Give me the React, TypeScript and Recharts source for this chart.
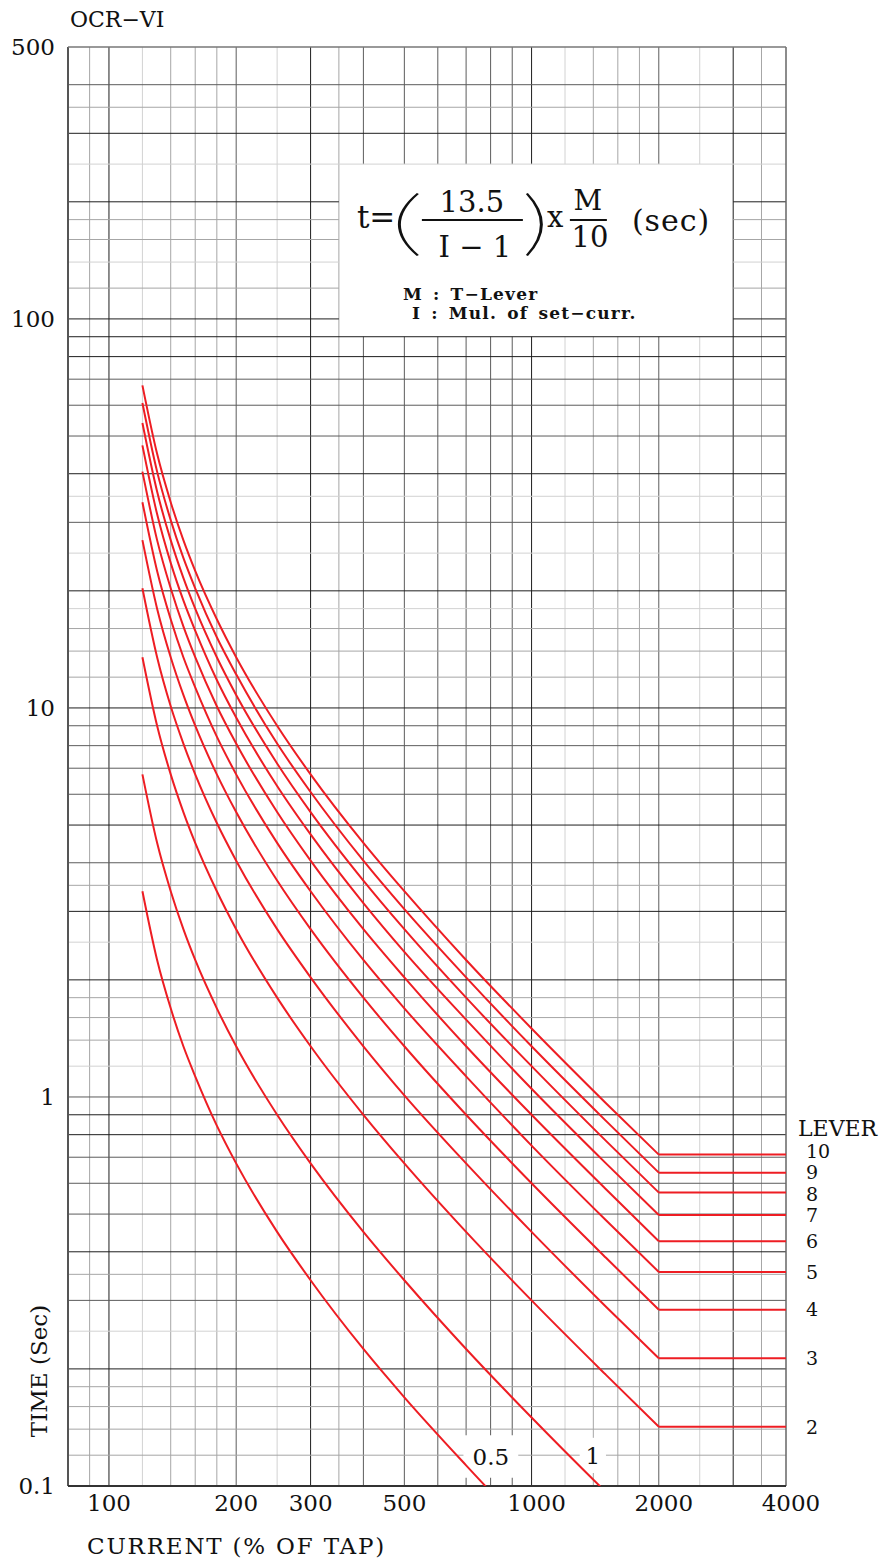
import React from "react";
import { LineChart, Line, XAxis, YAxis, ReferenceLine, ReferenceArea } from "recharts";

const FONT = "'DejaVu Serif', 'Liberation Serif', serif";
const RED = "#ee1d23";
const INK = "#111";

// current in % of tap, where the curves are read
const currents = [120, 130, 140, 150, 160, 180, 200, 250, 300, 400, 500, 700, 1000, 1500, 2000];
const flatCurrents = [2000, 4000];

// operating time (sec) per time lever
const lever10 = [67.5, 45, 33.8, 27, 22.5, 16.9, 13.5, 9, 6.75, 4.5, 3.38, 2.25, 1.5, 0.964, 0.711];
const lever9 = [60.8, 40.5, 30.4, 24.3, 20.3, 15.2, 12.2, 8.1, 6.08, 4.05, 3.04, 2.03, 1.35, 0.868, 0.639];
const lever8 = [54, 36, 27, 21.6, 18, 13.5, 10.8, 7.2, 5.4, 3.6, 2.7, 1.8, 1.2, 0.771, 0.568];
const lever7 = [47.3, 31.5, 23.6, 18.9, 15.8, 11.8, 9.45, 6.3, 4.73, 3.15, 2.36, 1.58, 1.05, 0.675, 0.497];
const lever6 = [40.5, 27, 20.3, 16.2, 13.5, 10.1, 8.1, 5.4, 4.05, 2.7, 2.03, 1.35, 0.9, 0.579, 0.426];
const lever5 = [33.8, 22.5, 16.9, 13.5, 11.3, 8.44, 6.75, 4.5, 3.38, 2.25, 1.69, 1.13, 0.75, 0.482, 0.355];
const lever4 = [27, 18, 13.5, 10.8, 9, 6.75, 5.4, 3.6, 2.7, 1.8, 1.35, 0.9, 0.6, 0.386, 0.284];
const lever3 = [20.3, 13.5, 10.1, 8.1, 6.75, 5.06, 4.05, 2.7, 2.03, 1.35, 1.01, 0.675, 0.45, 0.289, 0.213];
const lever2 = [13.5, 9, 6.75, 5.4, 4.5, 3.38, 2.7, 1.8, 1.35, 0.9, 0.675, 0.45, 0.3, 0.193, 0.142];
const lever1 = [6.75, 4.5, 3.38, 2.7, 2.25, 1.69, 1.35, 0.9, 0.675, 0.45, 0.338, 0.225, 0.15, 0.0964, 0.0711];
const lever05 = [3.38, 2.25, 1.69, 1.35, 1.13, 0.844, 0.675, 0.45, 0.338, 0.225, 0.169, 0.113, 0.075, 0.0482, 0.0355];

const leverNames = ["10", "9", "8", "7", "6", "5", "4", "3", "2", "1", "0.5"];
const leverTimes = [lever10, lever9, lever8, lever7, lever6, lever5, lever4, lever3, lever2, lever1, lever05];
const flatLevers = ["10", "9", "8", "7", "6", "5", "4", "3", "2"];
// small nudges so the tightly packed lever numbers don't collide
const labelNudge: Record<string, number> = { "10": -3, "8": 2 };

const xTicks = [100, 200, 300, 500, 1000, 2000, 4000];
const yTicks = [0.1, 1, 10, 100, 500];
const X_DOMAIN: [number, number] = [80, 4000];
const Y_DOMAIN: [number, number] = [0.1, 500];

const GRID: Record<string, string> = {
    major: "#1e1e1e",
    mid: "#5c5c5c",
    minor: "#a6a6a6",
    faint: "#d2d2d2",
};

const vGrid: [number, string][] = [
    [90, "minor"], [100, "major"], [120, "faint"], [140, "minor"], [160, "minor"], [180, "minor"],
    [200, "mid"], [250, "faint"], [300, "major"], [350, "minor"], [400, "mid"], [500, "mid"],
    [600, "mid"], [700, "mid"], [800, "mid"], [900, "mid"], [1000, "major"], [1200, "faint"],
    [1400, "minor"], [1600, "minor"], [1800, "minor"], [2000, "mid"], [2500, "faint"],
    [3000, "major"], [3500, "minor"],
];

const hGrid: [number, string][] = [
    [400, "mid"], [350, "minor"], [300, "major"], [250, "faint"], [200, "major"], [180, "minor"],
    [160, "minor"], [140, "faint"], [120, "minor"], [100, "major"], [90, "major"], [80, "major"],
    [70, "mid"], [60, "mid"], [50, "mid"], [40, "major"], [35, "faint"], [30, "mid"], [25, "faint"],
    [20, "major"], [18, "faint"], [16, "minor"], [14, "minor"], [12, "minor"], [10, "major"],
    [9, "mid"], [8, "mid"], [7, "mid"], [6, "mid"], [5, "major"], [4, "mid"], [3.5, "minor"],
    [3, "major"], [2.5, "faint"], [2, "major"], [1.8, "minor"], [1.6, "minor"], [1.4, "minor"],
    [1.2, "faint"], [1, "mid"], [0.9, "major"], [0.8, "major"], [0.7, "mid"], [0.6, "mid"],
    [0.5, "mid"], [0.4, "major"], [0.35, "minor"], [0.3, "mid"], [0.25, "faint"], [0.2, "major"],
    [0.18, "minor"], [0.16, "minor"], [0.14, "minor"], [0.12, "minor"],
];

// white boxes (x1, x2, y1, y2) that the grid stops at
const formulaBox = [350, 3000, 90, 250];
const halfBox = [690, 930, 0.105, 0.135];
const oneBox = [1300, 1500, 0.108, 0.133];
const holes = [formulaBox, halfBox, oneBox];

const curveData = (times: number[]) => currents.map((x, i) => ({ x, t: times[i] }));
const flatData = (times: number[]) => flatCurrents.map((x) => ({ x, t: times[times.length - 1] }));

// pieces of [lo, hi] left after removing the cut ranges
const splitSpan = (lo: number, hi: number, cuts: number[][]) => {
    const spans: number[][] = [];
    let start = lo;
    [...cuts].sort((a, b) => a[0] - b[0]).forEach(([a, b]) => {
        if (a > start) spans.push([start, a]);
        start = Math.max(start, b);
    });
    if (start < hi) spans.push([start, hi]);
    return spans;
};

const gridLines = () => {
    const out: React.ReactNode[] = [];
    vGrid.forEach(([v, w]) => {
        const cuts = holes.filter((h) => h[0] < v && v < h[1]).map((h) => [h[2], h[3]]);
        splitSpan(Y_DOMAIN[0], Y_DOMAIN[1], cuts).forEach(([a, b], k) => {
            out.push(<ReferenceLine key={`v${v}-${k}`} segment={[{ x: v, y: a }, { x: v, y: b }]}
                                    stroke={GRID[w]} strokeWidth={1} />);
        });
    });
    hGrid.forEach(([v, w]) => {
        const cuts = holes.filter((h) => h[2] < v && v < h[3]).map((h) => [h[0], h[1]]);
        splitSpan(X_DOMAIN[0], X_DOMAIN[1], cuts).forEach(([a, b], k) => {
            out.push(<ReferenceLine key={`h${v}-${k}`} segment={[{ x: a, y: v }, { x: b, y: v }]}
                                    stroke={GRID[w]} strokeWidth={1} />);
        });
    });
    return out;
};

const XTick = (props: any) => {
    const { x, y, payload } = props;
    const shift = payload.value >= 1000 ? 5 : 0;
    return (
        <text x={x + shift} y={y} dy="0.71em" textAnchor="middle" fontFamily={FONT} fontSize={23} fill={INK}>
            {payload.value}
        </text>
    );
};

// titles placed from the y axis box (x = left margin, y = plot top)
const titles = (props: any) => {
    const { x, y, height } = props.viewBox;
    return (
        <g fontFamily={FONT} fill={INK}>
            <text x={x + 62} y={y - 20} fontSize={22}>OCR−VI</text>
            <text transform={`translate(${x + 31}, ${y + height - 115}) rotate(-90)`}
                  textAnchor="middle" dominantBaseline="central" fontSize={23}>
                TIME (Sec)
            </text>
            <text x={x + 79} y={y + height + 68} fontSize={23} letterSpacing={1.8}>
                CURRENT (% OF TAP)
            </text>
        </g>
    );
};

const FormulaText = (props: any) => {
    const { x, y } = props.viewBox;
    return (
        <g fontFamily={FONT} fill={INK} transform={`translate(${x}, ${y})`}>
            <text x={18} y={64} fontSize={31}>t=</text>
            <path d="M78 29 Q40 60.5 78 92 L80 91 Q44 60.5 80 30 Z" fill={INK} />
            <text x={133} y={48} fontSize={29} textAnchor="middle">13.5</text>
            <line x1={83} x2={184} y1={56} y2={56} stroke={INK} strokeWidth={2} />
            <text x={136} y={93} fontSize={29} textAnchor="middle">I − 1</text>
            <path d="M189 29 Q219 60.5 189 92 L187 91 Q215 60.5 187 30 Z" fill={INK} />
            <text x={208} y={63} fontSize={29}>x</text>
            <text x={249} y={46} fontSize={28} textAnchor="middle">M</text>
            <line x1={231} x2={268} y1={56} y2={56} stroke={INK} strokeWidth={2} />
            <text x={251} y={83} fontSize={29} textAnchor="middle">10</text>
            <text x={293} y={67} fontSize={30} letterSpacing={1}>(sec)</text>
            <text x={64} y={136} fontSize={17} fontWeight="bold" letterSpacing={1.2} wordSpacing={3}>M : T−Lever</text>
            <text x={73} y={155} fontSize={17} fontWeight="bold" letterSpacing={1.2} wordSpacing={3}>I : Mul. of set−curr.</text>
        </g>
    );
};

const leverLabel = (name: string) => (props: any) => {
    const { x, y, index } = props;
    if (index !== 1) return <g />;
    const ny = y + (labelNudge[name] || 0);
    return (
        <g fontFamily={FONT} fill={INK} fontSize={19}>
            {name === "10" && <text x={x + 12} y={y - 19} fontSize={22}>LEVER</text>}
            <text x={x + 20} y={ny} dy="0.36em">{name}</text>
        </g>
    );
};

export default function App() {
    return (
        <div style={{ position: "absolute", left: 0, top: 0, width: 885, height: 1563, background: "#fff" }}>
            <LineChart width={885} height={1563} margin={{ top: 47, right: 99, bottom: 27, left: 8 }}>
                <XAxis dataKey="x" type="number" scale="log" domain={X_DOMAIN} ticks={xTicks} interval={0}
                       allowDataOverflow axisLine={false} tickLine={false} tickMargin={3} height={50}
                       tick={<XTick />} />
                <YAxis type="number" scale="log" domain={Y_DOMAIN} ticks={yTicks} interval={0}
                       allowDataOverflow axisLine={false} tickLine={false} tickMargin={7} width={60}
                       tick={{ fontFamily: FONT, fontSize: 23, fill: INK }} label={titles} />

                {gridLines()}
                <ReferenceLine x={80} stroke="#555" strokeWidth={2} />
                <ReferenceLine x={4000} stroke="#666" strokeWidth={1.5} />
                <ReferenceLine y={500} stroke="#777" strokeWidth={1.5} />
                <ReferenceLine y={0.1} stroke="#333" strokeWidth={2} />

                <ReferenceArea x1={formulaBox[0]} x2={formulaBox[1]} y1={formulaBox[2]} y2={formulaBox[3]}
                               fill="#fff" fillOpacity={0} stroke="none" label={FormulaText} />
                <ReferenceArea x1={halfBox[0]} x2={halfBox[1]} y1={halfBox[2]} y2={halfBox[3]}
                               fill="#fff" fillOpacity={0} stroke="none"
                               label={{ value: "0.5", position: "center", fontFamily: FONT, fontSize: 23, fill: INK }} />
                <ReferenceArea x1={oneBox[0]} x2={oneBox[1]} y1={oneBox[2]} y2={oneBox[3]}
                               fill="#fff" fillOpacity={0} stroke="none"
                               label={{ value: "1", position: "center", fontFamily: FONT, fontSize: 23, fill: INK }} />

                {leverTimes.map((times, i) => (
                    <Line key={`c${leverNames[i]}`} data={curveData(times)} dataKey="t" type="monotone"
                          stroke={RED} strokeWidth={2} dot={false} isAnimationActive={false} />
                ))}
                {flatLevers.map((name, i) => (
                    <Line key={`f${name}`} data={flatData(leverTimes[i])} dataKey="t" type="linear"
                          stroke={RED} strokeWidth={2} dot={false} isAnimationActive={false}
                          label={leverLabel(name)} />
                ))}
            </LineChart>
        </div>
    );
}
